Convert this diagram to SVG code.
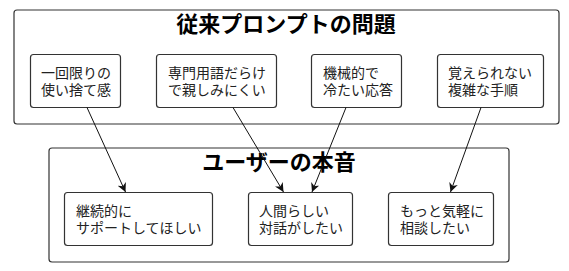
<svg xmlns="http://www.w3.org/2000/svg" width="569" height="271" viewBox="0 0 569 271">
<style>
.bg{fill:#ffffff}
.cluster{fill:#ffffff;stroke:#333333;stroke-width:1.2}
.node{fill:#ffffff;stroke:#333333;stroke-width:1.2}
.title{font-family:"Noto Sans CJK JP","Noto Sans",sans-serif;font-size:22px;font-weight:bold;fill:#000000}
.label{font-family:"Liberation Sans","Noto Sans CJK JP",sans-serif;font-size:14px;fill:#222222}
.edge{fill:none;stroke:#111111;stroke-width:1}
</style>
<defs>
<marker id="arrow" viewBox="0 0 10 10" refX="10" refY="5" markerWidth="9" markerHeight="9" orient="auto" markerUnits="userSpaceOnUse">
<path d="M0,0 L10,5 L0,10 L3,5 Z" fill="#111111"/>
</marker>
</defs>
<rect class="bg" x="0" y="0" width="569" height="271"/>
<g id="cluster-problems">
<rect class="cluster" x="14" y="10" width="545" height="114" rx="3"/>
<text class="title" x="286" y="32" text-anchor="middle">従来プロンプトの問題</text>
</g>
<g id="cluster-voice">
<rect class="cluster" x="49" y="148" width="460" height="114" rx="3"/>
<text class="title" x="279" y="170" text-anchor="middle">ユーザーの本音</text>
</g>
<g id="p1">
<rect class="node" x="30.5" y="54.5" width="90" height="53" rx="3"/>
<text class="label" x="41" y="78">一回限りの<tspan x="41" dy="16.5">使い捨て感</tspan></text>
</g>
<g id="p2">
<rect class="node" x="156.5" y="54.5" width="120" height="53" rx="3"/>
<text class="label" x="168" y="78">専門用語だらけ<tspan x="168" dy="16.5">で親しみにくい</tspan></text>
</g>
<g id="p3">
<rect class="node" x="311.5" y="54.5" width="90" height="53" rx="3"/>
<text class="label" x="323" y="78">機械的で<tspan x="323" dy="16.5">冷たい応答</tspan></text>
</g>
<g id="p4">
<rect class="node" x="437.5" y="54.5" width="106" height="53" rx="3"/>
<text class="label" x="448" y="78">覚えられない<tspan x="448" dy="16.5">複雑な手順</tspan></text>
</g>
<g id="v1">
<rect class="node" x="64.5" y="192.5" width="148" height="53" rx="3"/>
<text class="label" x="76" y="216">継続的に<tspan x="76" dy="16.5">サポートしてほしい</tspan></text>
</g>
<g id="v2">
<rect class="node" x="248.5" y="192.5" width="104" height="53" rx="3"/>
<text class="label" x="259" y="216">人間らしい<tspan x="259" dy="16.5">対話がしたい</tspan></text>
</g>
<g id="v3">
<rect class="node" x="388.5" y="192.5" width="105" height="53" rx="3"/>
<text class="label" x="400" y="216">もっと気軽に<tspan x="400" dy="16.5">相談したい</tspan></text>
</g>
<g id="connectors">
<path class="edge" d="M87,107.5 L125.5,192" marker-end="url(#arrow)"/>
<path class="edge" d="M233,107.5 L283.5,192" marker-end="url(#arrow)"/>
<path class="edge" d="M346,107.5 L312,192" marker-end="url(#arrow)"/>
<path class="edge" d="M481,107.5 L450.5,192" marker-end="url(#arrow)"/>
</g>
</svg>
